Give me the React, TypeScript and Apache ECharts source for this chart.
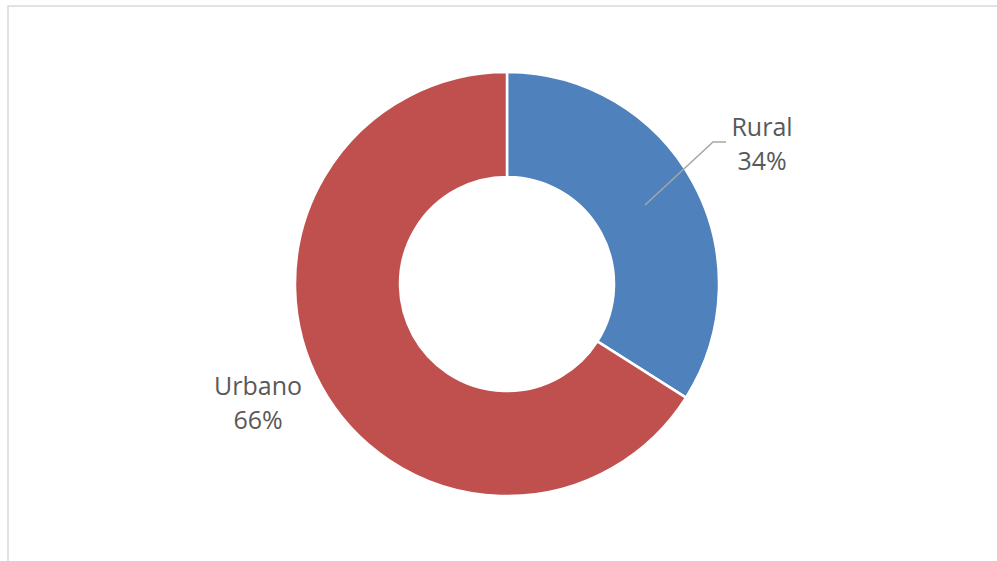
import React, { useEffect, useRef } from "react";
import * as echarts from "echarts";

const categories = ["Rural", "Urbano"];
const values = [34, 66];
const colors = ["#4f81bd", "#c0504d"];

export default function App() {
  const ref = useRef<HTMLDivElement>(null);
  useEffect(() => {
    if (!ref.current) return;
    const chart = echarts.init(ref.current, null, { renderer: "svg" });
    chart.setOption({
      animation: false,
      backgroundColor: "#ffffff",
      graphic: [
        {
          type: "rect",
          shape: { x: 8, y: 6, width: 1000, height: 600 },
          style: { fill: "none", stroke: "#d9d9d9", lineWidth: 1.5 },
          silent: true,
        },
        {
          type: "polyline",
          z: 100,
          shape: {
            points: [
              [645, 205],
              [713, 142],
              [726, 142],
            ],
          },
          style: { fill: "none", stroke: "#a6a6a6", lineWidth: 1.5 },
          silent: true,
        },
      ],
      series: [
        {
          type: "pie",
          center: [507, 284],
          radius: [107, 212],
          startAngle: 90,
          clockwise: true,
          percentPrecision: 0,
          itemStyle: { borderColor: "#ffffff", borderWidth: 2.5 },
          label: {
            show: true,
            formatter: "{b}\n{d}%",
            fontFamily: "Open Sans",
            fontSize: 25,
            lineHeight: 34,
            color: "#595959",
            align: "center",
          },
          labelLine: { show: false },
          labelLayout: (params: any) => {
            if (params.dataIndex === 0) {
              return { x: 762, y: 143, align: "center", verticalAlign: "middle" };
            }
            return { x: 258, y: 402, align: "center", verticalAlign: "middle" };
          },
          data: categories.map((name, i) => ({
            name,
            value: values[i],
            itemStyle: { color: colors[i] },
          })),
        },
      ],
    });
    return () => chart.dispose();
  }, []);
  return (
    <div
      ref={ref}
      style={{ position: "fixed", left: 0, top: 0, width: 997, height: 561 }}
    />
  );
}
